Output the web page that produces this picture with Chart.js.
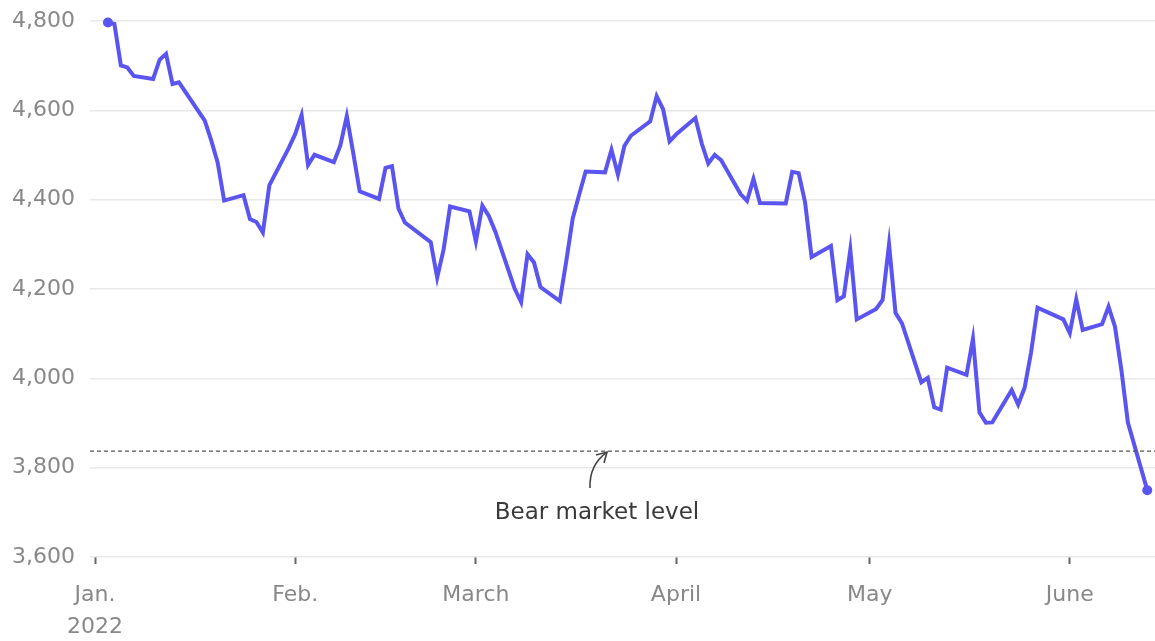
<!DOCTYPE html>
<html>
<head>
<meta charset="utf-8">
<script src="https://cdn.jsdelivr.net/npm/chart.js@4.4.1/dist/chart.umd.min.js"></script>
<style>
	html, body { margin: 0; padding: 0; background: #fff; overflow: hidden; }
	canvas { display: block; }
</style>
</head>
<body>
<canvas id="sp-chart" width="1155" height="641"></canvas>
<script>
( function () {
	'use strict';

	// S&P 500 daily closes, Jan. 3 - June 13, 2022
	var dates = [
		'2022-01-03', '2022-01-04', '2022-01-05', '2022-01-06', '2022-01-07', '2022-01-10', '2022-01-11', '2022-01-12',
		'2022-01-13', '2022-01-14', '2022-01-18', '2022-01-19', '2022-01-20', '2022-01-21', '2022-01-24', '2022-01-25',
		'2022-01-26', '2022-01-27', '2022-01-28', '2022-01-31',
		'2022-02-01', '2022-02-02', '2022-02-03', '2022-02-04', '2022-02-07', '2022-02-08', '2022-02-09', '2022-02-10',
		'2022-02-11', '2022-02-14', '2022-02-15', '2022-02-16', '2022-02-17', '2022-02-18', '2022-02-22', '2022-02-23',
		'2022-02-24', '2022-02-25', '2022-02-28',
		'2022-03-01', '2022-03-02', '2022-03-03', '2022-03-04', '2022-03-07', '2022-03-08', '2022-03-09', '2022-03-10',
		'2022-03-11', '2022-03-14', '2022-03-15', '2022-03-16', '2022-03-17', '2022-03-18', '2022-03-21', '2022-03-22',
		'2022-03-23', '2022-03-24', '2022-03-25', '2022-03-28', '2022-03-29', '2022-03-30', '2022-03-31',
		'2022-04-01', '2022-04-04', '2022-04-05', '2022-04-06', '2022-04-07', '2022-04-08', '2022-04-11', '2022-04-12',
		'2022-04-13', '2022-04-14', '2022-04-18', '2022-04-19', '2022-04-20', '2022-04-21', '2022-04-22', '2022-04-25',
		'2022-04-26', '2022-04-27', '2022-04-28', '2022-04-29',
		'2022-05-02', '2022-05-03', '2022-05-04', '2022-05-05', '2022-05-06', '2022-05-09', '2022-05-10', '2022-05-11',
		'2022-05-12', '2022-05-13', '2022-05-16', '2022-05-17', '2022-05-18', '2022-05-19', '2022-05-20', '2022-05-23',
		'2022-05-24', '2022-05-25', '2022-05-26', '2022-05-27', '2022-05-31',
		'2022-06-01', '2022-06-02', '2022-06-03', '2022-06-06', '2022-06-07', '2022-06-08', '2022-06-09', '2022-06-10',
		'2022-06-13'
	];

	var closes = [
		4796.56, 4793.54, 4700.58, 4696.05, 4677.03, 4670.29, 4713.07, 4726.35,
		4659.03, 4662.85, 4577.11, 4532.76, 4482.73, 4397.94, 4410.13, 4356.45,
		4349.93, 4326.51, 4431.85, 4515.55,
		4546.54, 4589.38, 4477.44, 4500.53, 4483.87, 4521.54, 4587.18, 4504.08,
		4418.64, 4401.67, 4471.07, 4475.01, 4380.26, 4348.87, 4304.76, 4225.50,
		4288.70, 4384.65, 4373.94,
		4306.26, 4386.54, 4363.49, 4328.87, 4201.09, 4170.70, 4277.88, 4259.52,
		4204.31, 4173.11, 4262.45, 4357.86, 4411.67, 4463.12, 4461.18, 4511.61,
		4456.24, 4520.16, 4543.06, 4575.52, 4631.60, 4602.45, 4530.41,
		4545.86, 4582.64, 4525.12, 4481.15, 4500.21, 4488.28, 4412.53, 4397.45,
		4446.59, 4392.59, 4391.69, 4462.21, 4459.45, 4393.66, 4271.78, 4296.12,
		4175.20, 4183.96, 4287.50, 4131.93,
		4155.38, 4175.48, 4300.17, 4146.87, 4123.34, 3991.24, 4001.05, 3935.18,
		3930.08, 4023.89, 4008.01, 4088.85, 3923.68, 3900.79, 3901.36, 3973.75,
		3941.48, 3978.73, 4057.84, 4158.24, 4132.15,
		4101.23, 4176.82, 4108.54, 4121.43, 4160.68, 4115.77, 4017.82, 3900.86,
		3749.63
	];

	var monthStarts = [ '2022-01-01', '2022-02-01', '2022-03-01', '2022-04-01', '2022-05-01', '2022-06-01' ];
	var monthLabels = [ [ 'Jan.', '2022' ], 'Feb.', 'March', 'April', 'May', 'June' ];
	var yTicks = [ 3600, 3800, 4000, 4200, 4400, 4600, 4800 ];

	var bearLevel = 3837.25;
	var bearLabel = 'Bear market level';
	var bearLabelDate = '2022-03-21';

	var lineColor = '#5a54f0';
	var fontFamily = '"DejaVu Sans", sans-serif';

	function dayOfYear( iso ) {
		return ( Date.parse( iso ) - Date.parse( '2022-01-01' ) ) / 86400000;
	}

	var points = dates.map( function ( d, i ) {
		return { x: dayOfYear( d ), y: closes[ i ] };
	} );
	var tickDays = monthStarts.map( dayOfYear );
	var lastIndex = points.length - 1;

	var bearPlugin = {
		id: 'bearLine',
		afterDatasetsDraw: function ( chart ) {
			var ctx = chart.ctx;
			var area = chart.chartArea;
			var y = chart.scales.y.getPixelForValue( bearLevel );
			var x = chart.scales.x.getPixelForValue( dayOfYear( bearLabelDate ) );

			ctx.save();
			ctx.strokeStyle = '#555';
			ctx.lineWidth = 1.3;
			ctx.setLineDash( [ 4, 3 ] );
			ctx.beginPath();
			ctx.moveTo( area.left, y );
			ctx.lineTo( area.right, y );
			ctx.stroke();

			// curved arrow from the label up to the line
			ctx.setLineDash( [] );
			ctx.strokeStyle = '#444';
			ctx.lineWidth = 1.6;
			ctx.beginPath();
			ctx.moveTo( x - 15, y + 37 );
			ctx.quadraticCurveTo( x - 16, y + 14, x + 2, y + 1 );
			ctx.stroke();
			ctx.beginPath();
			ctx.moveTo( x - 9, y + 4 );
			ctx.lineTo( x + 2, y + 1 );
			ctx.lineTo( x - 1, y + 12 );
			ctx.stroke();

			ctx.fillStyle = '#3a3a3a';
			ctx.font = '23px ' + fontFamily;
			ctx.textAlign = 'center';
			ctx.textBaseline = 'middle';
			ctx.fillText( bearLabel, x - 8, y + 62 );
			ctx.restore();
		}
	};

	new Chart( document.getElementById( 'sp-chart' ), {
		type: 'line',
		data: {
			datasets: [
				{
					data: points,
					borderColor: lineColor,
					backgroundColor: lineColor,
					borderWidth: 4,
					tension: 0,
					clip: false,
					pointRadius: function ( c ) {
						return ( c.dataIndex === 0 || c.dataIndex === lastIndex ) ? 5 : 0;
					},
					pointBorderWidth: 0,
					pointHoverRadius: 0,
				},
			],
		},
		options: {
			responsive: false,
			animation: false,
			events: [],
			layout: {
				autoPadding: false,
				padding: { top: 21, right: 0, bottom: 0, left: 0 },
			},
			plugins: {
				legend: { display: false },
				tooltip: { enabled: false },
			},
			scales: {
				x: {
					type: 'linear',
					min: -0.78,
					max: 164.2,
					afterBuildTicks: function ( scale ) {
						scale.ticks = tickDays.map( function ( v ) {
							return { value: v };
						} );
					},
					afterFit: function ( scale ) {
						scale.height = 84;
						scale.paddingLeft = 0;
						scale.paddingRight = 0;
					},
					border: { display: false },
					grid: {
						drawOnChartArea: false,
						drawTicks: true,
						tickLength: 7,
						tickWidth: 2,
						tickColor: '#666',
					},
					ticks: {
						autoSkip: false,
						maxRotation: 0,
						padding: 15,
						color: '#888',
						font: { family: fontFamily, size: 22, lineHeight: 1.45 },
						callback: function ( value, index ) {
							return monthLabels[ index ];
						},
					},
				},
				y: {
					min: yTicks[ 0 ],
					max: yTicks[ yTicks.length - 1 ],
					afterBuildTicks: function ( scale ) {
						scale.ticks = yTicks.map( function ( v ) {
							return { value: v };
						} );
					},
					afterFit: function ( scale ) {
						scale.width = 90;
						scale.paddingTop = 0;
						scale.paddingBottom = 0;
					},
					border: { display: false },
					grid: {
						color: '#e8e8e8',
						lineWidth: 1.5,
						drawTicks: false,
					},
					ticks: {
						padding: 15,
						color: '#888',
						font: { family: fontFamily, size: 22 },
						callback: function ( value ) {
							return value.toLocaleString( 'en-US' );
						},
					},
				},
			},
		},
		plugins: [ bearPlugin ],
	} );
}() );
</script>
</body>
</html>
